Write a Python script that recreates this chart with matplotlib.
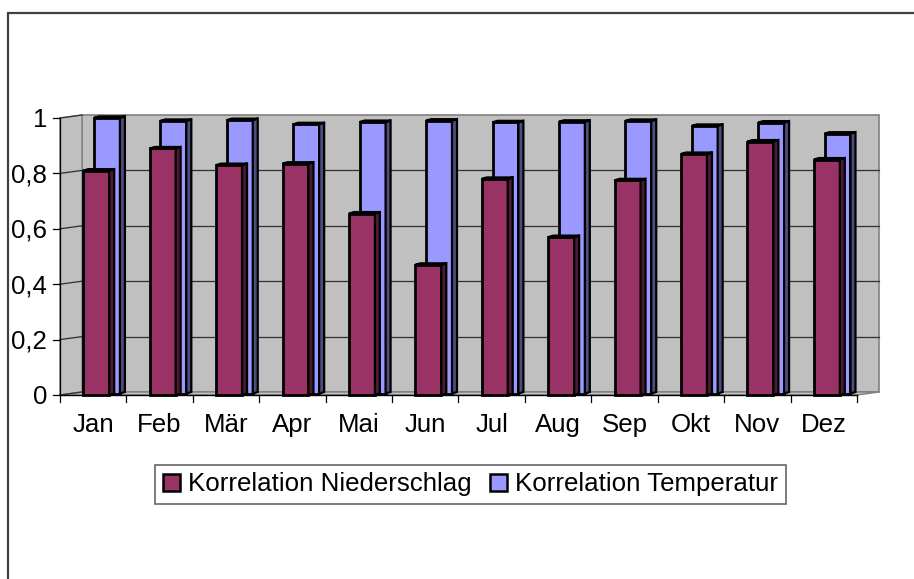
import matplotlib
matplotlib.use('Agg')
import matplotlib.pyplot as plt
from matplotlib.patches import Polygon, Rectangle, Patch
from matplotlib.lines import Line2D
from matplotlib.transforms import IdentityTransform, ScaledTranslation
import numpy as np

months = ['Jan', 'Feb', 'Mär', 'Apr', 'Mai', 'Jun', 'Jul', 'Aug', 'Sep', 'Okt', 'Nov', 'Dez']
niederschlag = [0.81, 0.89, 0.83, 0.835, 0.655, 0.47, 0.78, 0.57, 0.775, 0.87, 0.915, 0.85]
temperatur = [0.995, 0.984, 0.987, 0.972, 0.98, 0.985, 0.979, 0.981, 0.984, 0.966, 0.978, 0.938]
yticks = [0, 0.2, 0.4, 0.6, 0.8, 1]
ytick_labels = ['0', '0,2', '0,4', '0,6', '0,8', '1']
series_names = ['Korrelation Niederschlag', 'Korrelation Temperatur']

plt.rcParams['font.family'] = ['Liberation Sans', 'DejaVu Sans']

W, H, DPI = 914, 579, 100
fig = plt.figure(figsize=(W / DPI, H / DPI), dpi=DPI)
FS = 18.6

# plot frame (pixels from top)
X0, X1 = 60, 857
Y0, Y1 = 395, 118
ax = fig.add_axes([X0 / W, (H - Y0) / H, (X1 - X0) / W, (Y0 - Y1) / H])
n = len(months)
ax.set_xlim(0, n)
ax.set_ylim(0, 1)
ax.axis('off')

ID = IdentityTransform()
OFF = np.array([22.0, 3.0])   # depth offset of walls (display px)
WALL = '#c0c0c0'


def d(x, y):
    return np.array(ax.transData.transform((x, y)), dtype=float)


def poly(pts, **kw):
    p = Polygon(pts, closed=True, transform=ID, clip_on=False, **kw)
    ax.add_artist(p)
    return p


def line(p1, p2, **kw):
    l = Line2D([p1[0], p2[0]], [p1[1], p2[1]], transform=ID, clip_on=False, **kw)
    ax.add_artist(l)


# back wall
poly([d(0, 0) + OFF, d(n, 0) + OFF, d(n, 1) + OFF, d(0, 1) + OFF],
     facecolor=WALL, edgecolor='#808080', linewidth=1.2, zorder=1)
# left wall
poly([d(0, 0), d(0, 0) + OFF, d(0, 1) + OFF, d(0, 1)],
     facecolor=WALL, edgecolor='#808080', linewidth=1.0, zorder=1)
# floor
poly([d(0, 0), d(n, 0), d(n, 0) + OFF, d(0, 0) + OFF],
     facecolor=WALL, edgecolor='#808080', linewidth=1.0, zorder=1)

# gridlines
for y in yticks[1:-1]:
    line(d(0, y) + OFF, d(n, y) + OFF, color='#303030', linewidth=0.9, zorder=1.5)
for y in yticks:
    line(d(0, y), d(0, y) + OFF, color='#303030', linewidth=0.9, zorder=1.5)
    line(d(0, y) - np.array([7, 0]), d(0, y), color='black', linewidth=0.9, zorder=6)

# axis lines
line(d(0, 0), d(0, 1), color='black', linewidth=0.9, zorder=6)
line(d(0, 0), d(n, 0), color='black', linewidth=1.0, zorder=6)
for i in range(n + 1):
    line(d(i, 0), d(i, 0) - np.array([0, 7]), color='black', linewidth=0.9, zorder=6)

# bars
BW = 0.39
DEP = np.array([5.0, 1.5])


def draw_bars(xpos, vals, face, side, top, z, yshift):
    bars = ax.bar(xpos, vals, width=BW, align='edge', color=face,
                  edgecolor='black', linewidth=2.0, zorder=z)
    tr = ax.transData + ScaledTranslation(0, yshift / DPI, fig.dpi_scale_trans)
    for p in bars:
        p.set_transform(tr)
        p.set_clip_on(False)
        x0 = p.get_x()
        x1 = x0 + p.get_width()
        h = p.get_height()
        a = np.array(tr.transform((x1, 0)))
        b = np.array(tr.transform((x1, h)))
        c = np.array(tr.transform((x0, h)))
        poly([a, b, b + DEP, a + DEP], facecolor=side, edgecolor='black',
             linewidth=1.6, zorder=z)
        poly([c, b, b + DEP, c + DEP], facecolor=top, edgecolor='black',
             linewidth=1.6, zorder=z)
    return bars


xs = np.arange(n)
draw_bars(xs + 0.512, temperatur, '#9999ff', '#4d4d80', '#b3b3ff', 3, 1.5)
draw_bars(xs + 0.351, niederschlag, '#993366', '#4d1a33', '#b34d80', 5, 0)

# tick labels
ytr = ax.get_yaxis_transform() + ScaledTranslation(-13 / DPI, -9 / DPI, fig.dpi_scale_trans)
for y, lab in zip(yticks, ytick_labels):
    ax.text(0, y, lab, transform=ytr, ha='right', va='baseline', fontsize=FS, clip_on=False)
xtr = ax.transData + ScaledTranslation(0, -37 / DPI, fig.dpi_scale_trans)
for i, m in enumerate(months):
    ax.text(i + 0.5, 0, m, transform=xtr, ha='center', va='baseline', fontsize=FS, clip_on=False)

# legend
handles = [Patch(facecolor='#993366', edgecolor='black', linewidth=1.8, label=series_names[0]),
           Patch(facecolor='#9999ff', edgecolor='black', linewidth=1.8, label=series_names[1])]
leg = fig.legend(handles=handles, loc='center', bbox_to_anchor=(470.5 / W, 1 - 484.5 / H),
                 ncol=2, fontsize=FS, frameon=True, fancybox=False, edgecolor='#404040',
                 handlelength=0.66, handleheight=0.66, handletextpad=0.32,
                 columnspacing=0.7, borderpad=0.3, borderaxespad=0)
leg.get_frame().set_linewidth(1.2)

# outer chart border
fig.add_artist(Rectangle((8 / W, -0.05), 1.0, 1 - 13 / H + 0.05, transform=fig.transFigure,
                         fill=False, edgecolor='#404040', linewidth=1.6))

fig.savefig('out.png', dpi=DPI)
